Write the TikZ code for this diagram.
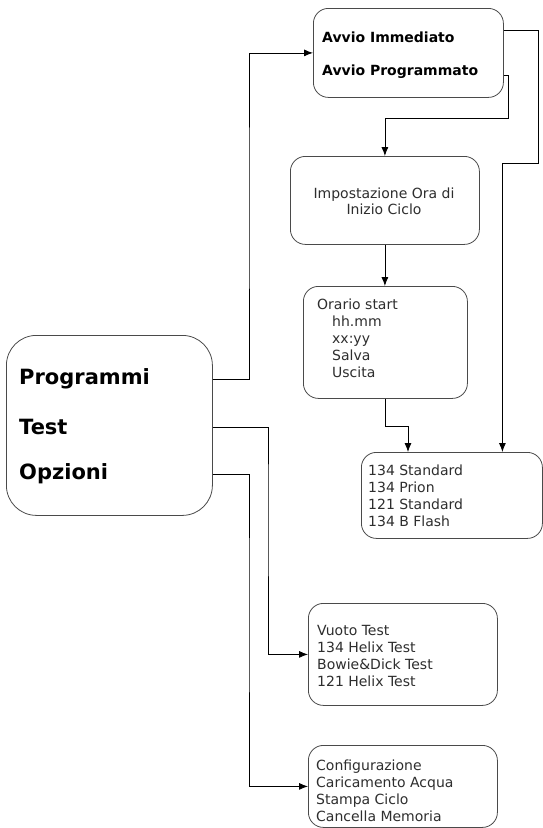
\documentclass[tikz,border=0pt]{standalone}
\usepackage{fontspec}
\setmainfont{DejaVu Sans}
\usetikzlibrary{arrows.meta}
\definecolor{txtgray}{HTML}{2E2E2E}
\definecolor{boxgray}{HTML}{4A4A4A}
\tikzset{
  x=1pt, y=-1pt,
  box/.style={draw=boxgray, line width=0.8pt, rounded corners=15pt, anchor=north west, inner sep=0pt},
  bigbox/.style={box, rounded corners=30pt},
  txt/.style={anchor=west, inner sep=0pt, align=left, text=txtgray, font=\fontsize{14}{17}\selectfont},
  btxt/.style={anchor=west, inner sep=0pt, text=black, font=\fontsize{14}{17}\selectfont\bfseries},
  mtxt/.style={anchor=west, inner sep=0pt, text=black, font=\fontsize{21}{24}\selectfont\bfseries},
  conn/.style={draw=black, line width=0.8pt},
  arr/.style={conn, -{Latex[length=9pt,width=7pt]}}
}
\begin{document}
\begin{tikzpicture}
\fill[white] (0,0) rectangle (543,828);
\useasboundingbox (0,0) rectangle (543,828);

% boxes
\node[box, minimum width=190pt, minimum height=89pt] (avvio) at (313,8) {};
\node[box, minimum width=189pt, minimum height=88pt] (impost) at (290,156) {};
\node[box, minimum width=164pt, minimum height=112pt] (orario) at (303,286) {};
\node[box, minimum width=181pt, minimum height=86pt] (std) at (361,452) {};
\node[bigbox, minimum width=206pt, minimum height=180pt] (main) at (6,335) {};
\node[box, minimum width=189pt, minimum height=102pt] (vuoto) at (308,603) {};
\node[box, minimum width=189pt, minimum height=82pt] (config) at (308,745) {};

% texts
\node[btxt] (imm) at (322,37) {Avvio Immediato};
\node[btxt] (progr) at (322,72) {Avvio Programmato};
\node[txt, anchor=center, align=center, font=\fontsize{14}{16}\selectfont] (imptxt) at (384,201) {Impostazione Ora di\\Inizio Ciclo};
\node[txt] (ortxt) at (317,338) {Orario start\\\hspace*{15pt}hh.mm\\\hspace*{15pt}xx:yy\\\hspace*{15pt}Salva\\\hspace*{15pt}Uscita};
\node[txt] (stdtxt) at (368,495.5) {134 Standard\\134 Prion\\121 Standard\\134 B Flash};
\node[mtxt] (prog) at (19,379) {Programmi};
\node[mtxt] (test) at (19,427) {Test};
\node[mtxt] (opz) at (19,474) {Opzioni};
\node[txt] (vtxt) at (317,655.5) {Vuoto Test\\134 Helix Test\\Bowie\&Dick Test\\121 Helix Test};
\node[txt] (ctxt) at (316,790.5) {Configurazione\\Caricamento Acqua\\Stampa Ciclo\\Cancella Memoria};

% bend points
\coordinate (c1) at (249,200);
\coordinate (c2) at (268,500);
\coordinate (c3) at (249,600);
\coordinate (c4) at (538,163);
\coordinate (c5) at (508,118);
\coordinate (c6) at (408,426);

% connectors
\draw[arr] (main.east |- prog) -| (c1) |- (avvio.west);
\draw[arr] (main.east |- test) -| (c2) |- (vuoto.west);
\draw[arr] (main.east |- opz) -| (c3) |- (config.west);
\draw[arr] ([yshift=22.5pt]avvio.east) -| (c4) -| ([xshift=50.5pt]std.north);
\draw[arr] ([yshift=-22.5pt]avvio.east) -| (c5) -| (impost.north);
\draw[arr] (impost.south) -- (impost.south |- orario.north);
\draw[arr] (orario.south) |- (c6) -- (c6 |- std.north);
\end{tikzpicture}
\end{document}
